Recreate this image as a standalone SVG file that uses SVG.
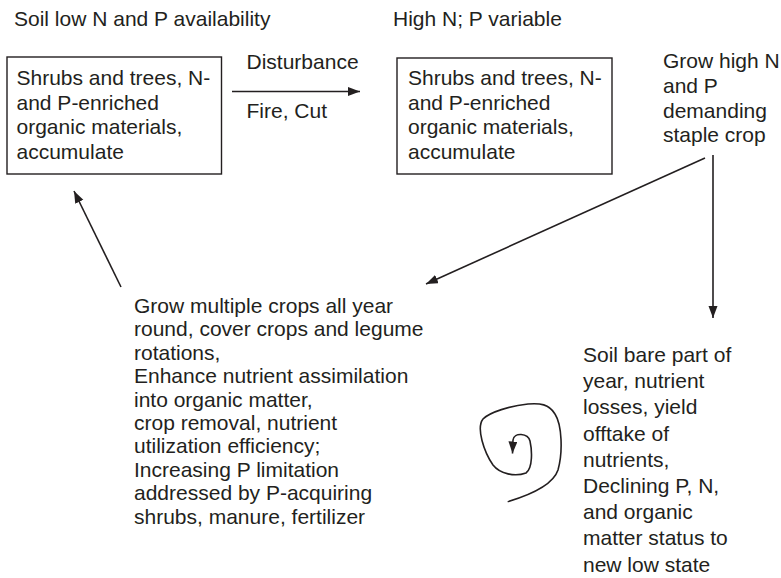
<svg xmlns="http://www.w3.org/2000/svg" width="781" height="578" viewBox="0 0 781 578">
  <style>
    text { font-family: "Liberation Sans", Arial, Helvetica, sans-serif; font-size: 21px; fill: #231f20; }
    .box { fill: #ffffff; stroke: #231f20; stroke-width: 1.4; }
    .link { fill: none; stroke: #231f20; stroke-width: 1.6; marker-end: url(#arrow); }
  </style>
  <defs>
    <marker id="arrow" markerUnits="userSpaceOnUse" markerWidth="13" markerHeight="10" refX="12" refY="4.5" orient="auto">
      <path d="M0,0 L12,4.5 L0,9 z" fill="#231f20"/>
    </marker>
  </defs>
  <rect width="781" height="578" fill="#ffffff"/>

  <!-- state labels -->
  <g id="label-low">
    <text x="14" y="26">Soil low N and P availability</text>
  </g>
  <g id="label-high">
    <text x="393" y="26">High N; P variable</text>
  </g>

  <!-- fallow boxes -->
  <g id="fallow-low">
    <rect class="box" x="7" y="57" width="214.5" height="117"/>
    <text x="16.5" y="85">Shrubs and trees, N-</text>
    <text x="16.5" y="109.5">and P-enriched</text>
    <text x="16.5" y="134">organic materials,</text>
    <text x="16.5" y="158.5">accumulate</text>
  </g>
  <g id="fallow-high">
    <rect class="box" x="397" y="58" width="215" height="116"/>
    <text x="408" y="85">Shrubs and trees, N-</text>
    <text x="408" y="109.5">and P-enriched</text>
    <text x="408" y="134">organic materials,</text>
    <text x="408" y="158.5">accumulate</text>
  </g>

  <!-- disturbance labels -->
  <g id="disturbance">
    <text x="246.5" y="69">Disturbance</text>
    <text x="246.5" y="118">Fire, Cut</text>
  </g>

  <!-- staple crop -->
  <g id="staple-crop">
    <text x="663" y="68">Grow high N</text>
    <text x="663" y="93">and P</text>
    <text x="663" y="118">demanding</text>
    <text x="663" y="142">staple crop</text>
  </g>

  <!-- improved management -->
  <g id="management">
    <text x="134" y="313">Grow multiple crops all year</text>
    <text x="134" y="336.4">round, cover crops and legume</text>
    <text x="134" y="359.8">rotations,</text>
    <text x="134" y="383.2">Enhance nutrient assimilation</text>
    <text x="134" y="406.6">into organic matter,</text>
    <text x="134" y="430">crop removal, nutrient</text>
    <text x="134" y="453.4">utilization efficiency;</text>
    <text x="134" y="476.8">Increasing P limitation</text>
    <text x="134" y="500.2">addressed by P-acquiring</text>
    <text x="134" y="523.6">shrubs, manure, fertilizer</text>
  </g>

  <!-- degradation -->
  <g id="degradation">
    <text x="583" y="362">Soil bare part of</text>
    <text x="583" y="388.2">year, nutrient</text>
    <text x="583" y="414.4">losses, yield</text>
    <text x="583" y="440.6">offtake of</text>
    <text x="583" y="466.8">nutrients,</text>
    <text x="583" y="493">Declining P, N,</text>
    <text x="583" y="519.2">and organic</text>
    <text x="583" y="545.4">matter status to</text>
    <text x="583" y="571.6">new low state</text>
  </g>

  <!-- connectors -->
  <g id="connectors">
    <line class="link" x1="232" y1="91.5" x2="360" y2="91.5"/>
    <line class="link" x1="705" y1="158" x2="426" y2="284"/>
    <line class="link" x1="713" y1="155" x2="713" y2="318"/>
    <line class="link" x1="121" y1="287" x2="74" y2="191"/>
    <path class="link" d="M507.7,501.7 C530,495 553,485 558,470 C563,452 562,425 555,414 C549,404 540,403 528,404 C510,406 490,412 483,419 C476,428 484,452 493,465 C500,474 515,477 526,473 C533,468 532,450 530,441 C528,433 514,432 513,440 L512.5,453.5"/>
  </g>
</svg>
